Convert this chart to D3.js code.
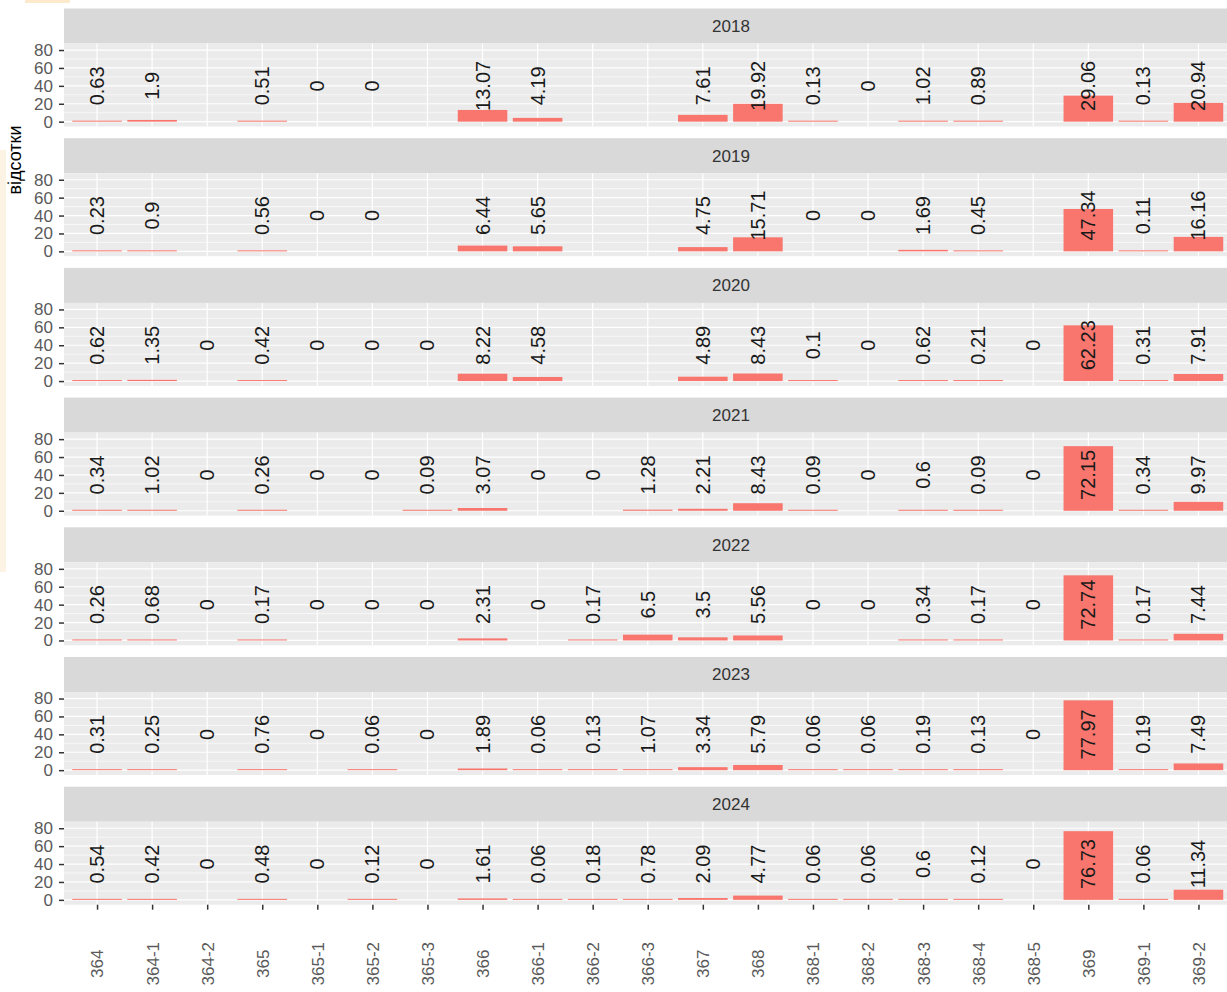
<!DOCTYPE html>
<html>
<head>
<meta charset="utf-8">
<script src="https://cdn.jsdelivr.net/npm/d3@7"></script>
<style>
  body { margin: 0; background: #fff; }
  svg { display: block; font-family: "Liberation Sans", Arial, sans-serif; }
</style>
</head>
<body>
<svg id="chart" width="1227" height="992"></svg>
<script>
// categories on the x axis
const categories = ["364", "364-1", "364-2", "365", "365-1", "365-2", "365-3",
  "366", "366-1", "366-2", "366-3", "367", "368", "368-1", "368-2", "368-3",
  "368-4", "368-5", "369", "369-1", "369-2"];

const years = [2018, 2019, 2020, 2021, 2022, 2023, 2024];

// percentages per category (null = no data for that year)
const v2018 = [0.63, 1.9, null, 0.51, 0, 0, null, 13.07, 4.19, null, null, 7.61, 19.92, 0.13, 0, 1.02, 0.89, null, 29.06, 0.13, 20.94];
const v2019 = [0.23, 0.9, null, 0.56, 0, 0, null, 6.44, 5.65, null, null, 4.75, 15.71, 0, 0, 1.69, 0.45, null, 47.34, 0.11, 16.16];
const v2020 = [0.62, 1.35, 0, 0.42, 0, 0, 0, 8.22, 4.58, null, null, 4.89, 8.43, 0.1, 0, 0.62, 0.21, 0, 62.23, 0.31, 7.91];
const v2021 = [0.34, 1.02, 0, 0.26, 0, 0, 0.09, 3.07, 0, 0, 1.28, 2.21, 8.43, 0.09, 0, 0.6, 0.09, 0, 72.15, 0.34, 9.97];
const v2022 = [0.26, 0.68, 0, 0.17, 0, 0, 0, 2.31, 0, 0.17, 6.5, 3.5, 5.56, 0, 0, 0.34, 0.17, 0, 72.74, 0.17, 7.44];
const v2023 = [0.31, 0.25, 0, 0.76, 0, 0.06, 0, 1.89, 0.06, 0.13, 1.07, 3.34, 5.79, 0.06, 0.06, 0.19, 0.13, 0, 77.97, 0.19, 7.49];
const v2024 = [0.54, 0.42, 0, 0.48, 0, 0.12, 0, 1.61, 0.06, 0.18, 0.78, 2.09, 4.77, 0.06, 0.06, 0.6, 0.12, 0, 76.73, 0.06, 11.34];

const yTicks = [0, 20, 40, 60, 80];
const yMinor = [10, 30, 50, 70];
const labelY = 40; // value labels sit at y = 40

const series = [v2018, v2019, v2020, v2021, v2022, v2023, v2024].map((vals, i) => ({
  year: years[i],
  rows: categories.map((c, j) => ({cat: c, value: vals[j]})).filter(d => d.value !== null)
}));

const svg = d3.select("#chart");

// layout
const left = 64, xRight = 1231.5, panelRightFull = 1398;
const top0 = 8.5, stripH = 35, panelH = 83, pitch = 129.7;

const x = d3.scalePoint().domain(categories).range([left, xRight]).padding(0.6);
const y = d3.scaleLinear().domain([-5.4, 87.3]).range([panelH, 0]);
const bw = x.step() * 0.9;

// faint background leftovers at the left edge
svg.append("rect").attr("x", 0).attr("y", 150).attr("width", 6).attr("height", 422).attr("fill", "#fdf3e4");
svg.append("rect").attr("x", 25).attr("y", 0).attr("width", 45).attr("height", 3).attr("fill", "#fde9cc");

series.forEach((s, i) => {
  const g = svg.append("g").attr("transform", `translate(0,${top0 + i * pitch})`);

  // strip
  g.append("rect")
    .attr("x", left).attr("y", 0)
    .attr("width", panelRightFull - left).attr("height", stripH)
    .attr("fill", "#d9d9d9");
  g.append("text")
    .attr("x", (left + panelRightFull) / 2)
    .attr("y", stripH / 2)
    .attr("dy", "0.35em")
    .attr("text-anchor", "middle")
    .attr("font-size", 17)
    .attr("fill", "#333")
    .text(s.year);

  const p = g.append("g").attr("transform", `translate(0,${stripH})`);

  p.append("rect")
    .attr("x", left).attr("y", 0)
    .attr("width", panelRightFull - left).attr("height", panelH)
    .attr("fill", "#ebebeb");

  // minor + major horizontal grid
  p.selectAll(".minor").data(yMinor).join("line")
    .attr("x1", left).attr("x2", panelRightFull)
    .attr("y1", d => y(d)).attr("y2", d => y(d))
    .attr("stroke", "#fff").attr("stroke-width", 0.6);
  p.selectAll(".major").data(yTicks).join("line")
    .attr("x1", left).attr("x2", panelRightFull)
    .attr("y1", d => y(d)).attr("y2", d => y(d))
    .attr("stroke", "#fff").attr("stroke-width", 1.2);

  // vertical grid at each category
  p.selectAll(".vgrid").data(categories).join("line")
    .attr("x1", d => x(d)).attr("x2", d => x(d))
    .attr("y1", 0).attr("y2", panelH)
    .attr("stroke", "#fff").attr("stroke-width", 1.2);

  // bars
  p.selectAll(".bar").data(s.rows).join("rect")
    .attr("x", d => x(d.cat) - bw / 2)
    .attr("width", bw)
    .attr("y", d => d.value > 0 ? Math.min(y(d.value), y(0) - 1) : y(0))
    .attr("height", d => d.value > 0 ? Math.max(y(0) - y(d.value), 1) : 0)
    .attr("fill", "#F8766D");

  // value labels
  p.selectAll(".lbl").data(s.rows).join("text")
    .attr("transform", d => `translate(${x(d.cat)},${y(labelY)}) rotate(-90)`)
    .attr("dy", "0.35em")
    .attr("text-anchor", "middle")
    .attr("font-size", 20)
    .attr("fill", "#1a1a1a")
    .text(d => String(d.value));

  // y axis
  const ya = p.append("g")
    .attr("transform", `translate(${left},0)`)
    .call(d3.axisLeft(y).tickValues(yTicks).tickSize(5).tickPadding(6));
  ya.select(".domain").remove();
  ya.selectAll("line").attr("stroke", "#333").attr("stroke-width", 1.5);
  ya.selectAll("text").attr("font-size", 17).attr("fill", "#5a5a5a")
    .attr("font-family", "Liberation Sans, Arial, sans-serif");

  // x axis under the last panel only
  if (i === series.length - 1) {
    const xa = p.append("g")
      .attr("transform", `translate(0,${panelH})`)
      .call(d3.axisBottom(x).tickSize(5));
    xa.select(".domain").remove();
    xa.selectAll("line").attr("stroke", "#333").attr("stroke-width", 1.5);
    xa.selectAll("text")
      .attr("x", 0).attr("y", 0)
      .attr("transform", "translate(0,59) rotate(-90)")
      .attr("dy", "0.35em")
      .attr("text-anchor", "middle")
      .attr("font-size", 17)
      .attr("fill", "#5a5a5a")
      .attr("font-family", "Liberation Sans, Arial, sans-serif");
  }
});

// y axis title
svg.append("text")
  .attr("transform", "translate(15,160) rotate(-90)")
  .attr("dy", "0.35em")
  .attr("text-anchor", "middle")
  .attr("font-size", 18)
  .attr("fill", "#000")
  .text("відсотки");
</script>
</body>
</html>
